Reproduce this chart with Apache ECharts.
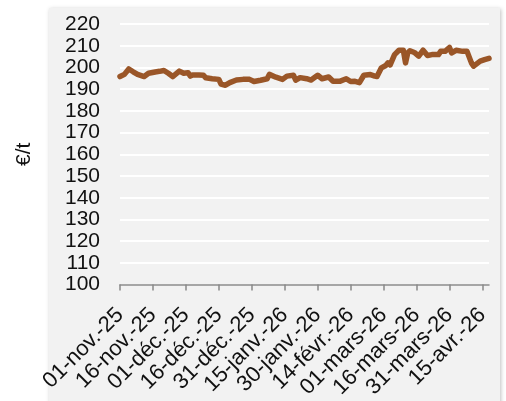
<!DOCTYPE html>
<html>
<head>
<meta charset="utf-8">
<script src="https://cdn.jsdelivr.net/npm/echarts@6/dist/echarts.min.js"></script>
<style>
html,body{margin:0;padding:0;background:#fff;}
#c{width:506px;height:401px;}
</style>
</head>
<body>
<div id="c"></div>
<script>
const startDate = '2025-11-01';
const dates = ['2025-11-01','2025-11-03','2025-11-05','2025-11-07','2025-11-09','2025-11-12','2025-11-14','2025-11-17','2025-11-19','2025-11-21','2025-11-23','2025-11-25','2025-11-28','2025-11-30',
'2025-12-02','2025-12-03','2025-12-04','2025-12-07','2025-12-09','2025-12-10','2025-12-13','2025-12-16','2025-12-17','2025-12-19','2025-12-21','2025-12-24','2025-12-27','2025-12-30',
'2026-01-01','2026-01-04','2026-01-07','2026-01-08','2026-01-11','2026-01-14','2026-01-16','2026-01-19','2026-01-20','2026-01-22','2026-01-25','2026-01-27','2026-01-30',
'2026-02-01','2026-02-04','2026-02-06','2026-02-09','2026-02-12','2026-02-14','2026-02-16','2026-02-18','2026-02-20','2026-02-23','2026-02-25','2026-02-26','2026-02-28',
'2026-03-02','2026-03-03','2026-03-04','2026-03-06','2026-03-08','2026-03-10','2026-03-11','2026-03-12','2026-03-13','2026-03-15','2026-03-17','2026-03-19','2026-03-21','2026-03-23','2026-03-26','2026-03-27','2026-03-29','2026-03-31',
'2026-04-01','2026-04-03','2026-04-06','2026-04-08','2026-04-10','2026-04-11','2026-04-14','2026-04-16','2026-04-18'];
const prices = [195.8,196.8,199.3,198.0,196.8,195.8,197.3,197.9,198.2,198.6,197.3,195.8,198.3,197.3,
197.6,196.0,196.5,196.5,196.4,195.2,194.8,194.5,192.3,191.8,193.0,194.2,194.5,194.5,
193.5,194.1,194.8,196.8,195.5,194.5,196.0,196.4,194.1,195.3,194.8,194.2,196.4,
194.8,195.6,193.6,193.6,194.8,193.5,193.6,193.0,196.4,196.7,196.0,195.8,199.8,
200.9,202.1,201.2,205.9,207.9,207.9,202.1,206.7,207.7,206.9,205.2,207.9,205.5,205.9,205.9,207.4,207.4,209.2,
206.7,207.9,207.4,207.4,202.1,200.6,202.9,203.6,204.2];
const xTickLabels = ['01-nov.-25','16-nov.-25','01-déc.-25','16-déc.-25','31-déc.-25','15-janv.-26','30-janv.-26','14-févr.-26','01-mars-26','16-mars-26','31-mars-26','15-avr.-26'];
const yTicks = [100,110,120,130,140,150,160,170,180,190,200,210,220];
const yName = '€/t';

const DAY = 86400000;
const t0 = Date.parse(startDate + 'T00:00:00Z');
const dayOf = d => Math.round((Date.parse(d + 'T00:00:00Z') - t0) / DAY);
const tickDays = xTickLabels.map((_, i) => i * 15);
const seriesData = dates.map((d, i) => [dayOf(d), prices[i]]);
const FONT = 'Liberation Sans, Arial, sans-serif';

const chart = echarts.init(document.getElementById('c'), null, {renderer: 'canvas'});
chart.setOption({
  animation: false,
  backgroundColor: '#ffffff',
  graphic: [{
    type: 'rect', z: -10, silent: true,
    shape: {x: 49, y: 8, width: 451, height: 400},
    style: {fill: '#f2f2f2', shadowBlur: 4, shadowColor: 'rgba(0,0,0,0.25)', shadowOffsetX: 1, shadowOffsetY: 1}
  }],
  grid: {left: 120, right: 17, top: 24, bottom: 114, containLabel: false},
  xAxis: {
    type: 'value', min: 0, max: 168,
    axisLine: {show: true, lineStyle: {color: '#898989', width: 1.5}},
    axisTick: {show: true, length: 6, lineStyle: {color: '#898989', width: 1.5}, customValues: tickDays},
    axisLabel: {
      customValues: tickDays,
      rotate: 45, margin: 27, fontSize: 22, color: '#111', fontFamily: FONT,
      formatter: v => xTickLabels[Math.round(v / 15)]
    },
    splitLine: {show: false}
  },
  yAxis: {
    type: 'value', min: yTicks[0], max: yTicks[yTicks.length - 1], interval: 10,
    name: yName, nameLocation: 'middle', nameRotate: 90, nameGap: 85,
    nameTextStyle: {fontSize: 21, color: '#111', fontFamily: FONT},
    axisLine: {show: false}, axisTick: {show: false},
    axisLabel: {fontSize: 21, color: '#111', margin: 20, fontFamily: FONT},
    splitLine: {show: true, lineStyle: {color: '#ffffff', width: 2}}
  },
  series: [{
    type: 'line', data: seriesData, showSymbol: false, smooth: false,
    lineStyle: {color: '#9a5628', width: 5.5, join: 'round', cap: 'round'}
  }]
});
</script>
</body>
</html>
